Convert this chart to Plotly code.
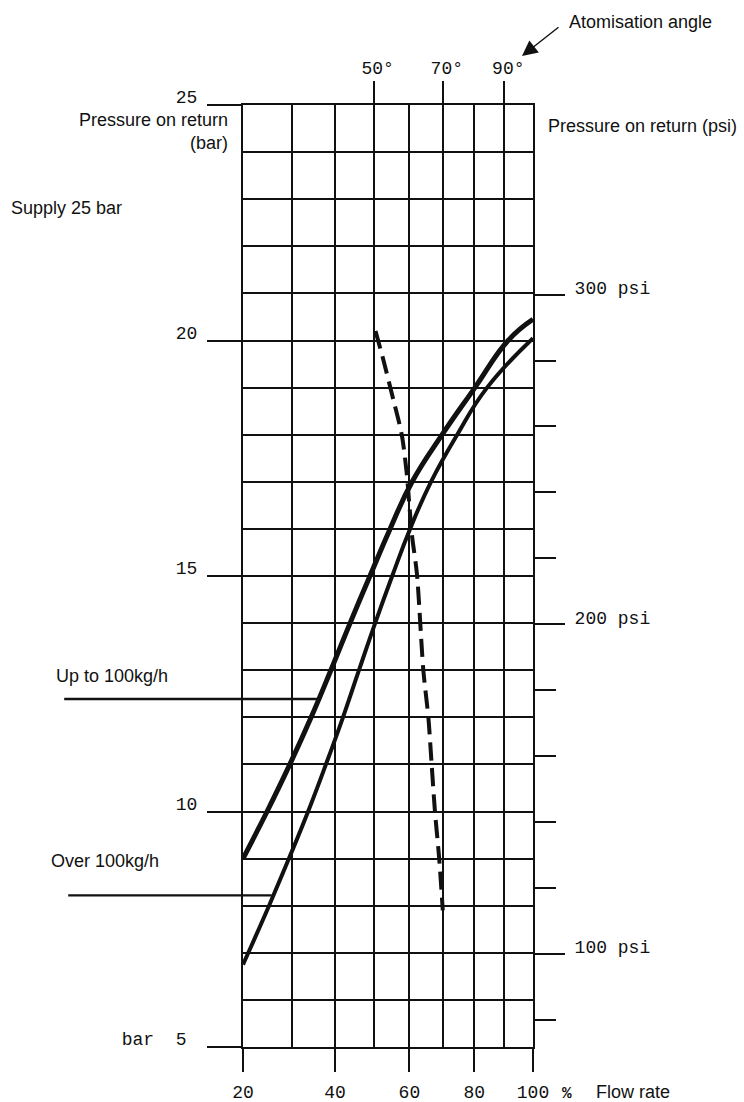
import plotly.graph_objects as go

# ---------------------------------------------------------------
# Data
# ---------------------------------------------------------------
# Flow-rate grid (%) and labelled ticks
flow_grid = [20, 30, 40, 50, 60, 70, 80, 90, 100]
flow_ticks = [20, 40, 60, 80, 100]
flow_tick_text = ["20", "40", "60", "80", "100"]

# Atomisation angle markers on the top edge
angle_flow = [50, 70, 90]
angle_text = ["50°", "70°", "90°"]

# Return pressure (bar) labelled ticks
bar_ticks = [5, 10, 15, 20, 25]
bar_tick_text = ["bar\u00a0\u00a05\u00a0", "10", "15", "20", "25"]

# Return pressure (psi) ticks on the right edge
psi_major = [100, 200, 300]
psi_major_text = ["100 psi", "200 psi", "300 psi"]
psi_minor = [80, 120, 140, 160, 180, 220, 240, 260, 280]

# Nozzle up to 100 kg/h : flow rate (%) vs return pressure (bar)
small_flow = [20, 24.7, 29.5, 34.3, 39.0, 43.8, 49.0, 54.5, 60.8, 69.8, 80.2, 91.3, 100]
small_bar = [9.0, 10, 11, 12, 13, 14, 15, 16, 17, 18, 19, 20, 20.45]

# Nozzle over 100 kg/h
large_flow = [20, 21.0, 25.1, 29.3, 33.6, 37.8, 42.0, 46.1, 50.4, 55.1, 60.2, 66.4, 74.5, 84.2, 100]
large_bar = [6.75, 7, 8, 9, 10, 11, 12, 13, 14, 15, 16, 17, 18, 19, 20.05]

# Atomisation angle line
angle_line_flow = [50.5, 52.6, 55.4, 57.8, 59.2, 60.7, 62.2, 64.1, 65.6, 66.6, 67.6, 68.9, 70.0]
angle_line_bar = [20.2, 19.6, 18.75, 18.0, 17.2, 15.9, 15.05, 13.0, 12.0, 11.0, 10.0, 9.0, 7.9]

# ---------------------------------------------------------------
# Flow axis is drawn on a power scale (exponent 0.6)
# ---------------------------------------------------------------
POWER = 0.6


def fpos(values):
    return [v ** POWER for v in values]


X_RANGE = [20 ** POWER, 100 ** POWER]
Y_RANGE = [5, 25]
PSI_RANGE = [71.8, 357.5]

W, H = 744, 1102
PL, PR, PT, PB = 243, 533, 105, 1047   # plot-area edges in px


def px_x(px):
    return (px - PL) / (PR - PL)


def px_y(py):
    return (PB - py) / (PB - PT)


SANS = "Liberation Sans, Arial, sans-serif"
MONO = "Liberation Mono, Courier New, monospace"
INK = "#111111"

fig = go.Figure()

fig.add_trace(go.Scatter(
    x=fpos(small_flow), y=small_bar, mode="lines",
    line=dict(color=INK, width=5, shape="spline", smoothing=1.3),
    name="Up to 100kg/h", showlegend=False, hoverinfo="skip"))

fig.add_trace(go.Scatter(
    x=fpos(large_flow), y=large_bar, mode="lines",
    line=dict(color=INK, width=4, shape="spline", smoothing=1.3),
    name="Over 100kg/h", showlegend=False, hoverinfo="skip"))

fig.add_trace(go.Scatter(
    x=fpos(angle_line_flow), y=angle_line_bar, mode="lines",
    xaxis="x2",
    line=dict(color=INK, width=4, dash="18px,8px", shape="spline", smoothing=0.8),
    name="Atomisation angle", showlegend=False, hoverinfo="skip"))

# psi scale carrier (no visible marks)
fig.add_trace(go.Scatter(
    x=[X_RANGE[0]], y=[PSI_RANGE[0]], yaxis="y2", mode="markers",
    marker=dict(opacity=0), showlegend=False, hoverinfo="skip"))

grid = dict(showgrid=True, gridcolor=INK, gridwidth=2)
tick_font = dict(family=MONO, size=18, color=INK)

fig.update_layout(
    template="none",
    width=W, height=H,
    margin=dict(l=PL, r=W - PR, t=PT, b=H - PB, pad=0, autoexpand=False),
    paper_bgcolor="white", plot_bgcolor="white",
    showlegend=False,
    xaxis=dict(
        range=X_RANGE, tickmode="array",
        tickvals=fpos(flow_ticks), ticktext=flow_tick_text,
        ticks="outside", ticklen=23, tickwidth=2, tickcolor=INK,
        tickfont=tick_font, ticklabelstandoff=4, automargin=False,
        minor=dict(tickmode="array", tickvals=fpos([30, 50, 70, 90]),
                   ticks="", **grid),
        showline=True, linecolor=INK, linewidth=2, mirror=True,
        zeroline=False, fixedrange=True, **grid),
    xaxis2=dict(
        range=X_RANGE, overlaying="x", side="top", anchor="y",
        tickmode="array", tickvals=fpos(angle_flow), ticktext=angle_text,
        ticks="outside", ticklen=23, tickwidth=2, tickcolor=INK,
        tickfont=tick_font, ticklabelshift=4, automargin=False,
        showgrid=False, showline=False, zeroline=False, fixedrange=True),
    yaxis=dict(
        range=Y_RANGE, tickmode="array",
        tickvals=bar_ticks, ticktext=bar_tick_text,
        ticks="outside", ticklen=34, tickwidth=2, tickcolor=INK,
        tickfont=tick_font, ticklabelshift=-8, ticklabelstandoff=6,
        automargin=False,
        minor=dict(tickmode="linear", tick0=0, dtick=1, ticks="", **grid),
        showline=True, linecolor=INK, linewidth=2, mirror=True,
        zeroline=False, fixedrange=True, **grid),
    yaxis2=dict(
        range=PSI_RANGE, overlaying="y", side="right", anchor="x",
        tickmode="array", tickvals=psi_major, ticktext=psi_major_text,
        ticks="outside", ticklen=31, tickwidth=2, tickcolor=INK,
        tickfont=tick_font, ticklabelshift=-7, ticklabelstandoff=6,
        automargin=False,
        minor=dict(tickmode="array", tickvals=psi_minor, ticks="outside",
                   ticklen=22, tickwidth=2, tickcolor=INK, showgrid=False),
        showgrid=False, showline=False, zeroline=False, fixedrange=True),
)

text_font = dict(family=SANS, size=18, color=INK)
notes = [
    dict(text="Atomisation angle", x=px_x(567), y=px_y(22), xanchor="left"),
    dict(text="Pressure on return<br>(bar)", x=px_x(230), y=px_y(108),
         xanchor="right", yanchor="top", align="right"),
    dict(text="Supply 25 bar", x=px_x(9), y=px_y(208), xanchor="left"),
    dict(text="Pressure on return (psi)", x=px_x(546), y=px_y(126), xanchor="left"),
    dict(text="Up to 100kg/h", x=px_x(54), y=px_y(676), xanchor="left"),
    dict(text="Over 100kg/h", x=px_x(49), y=px_y(861), xanchor="left"),
    dict(text="Flow rate", x=px_x(594), y=px_y(1092), xanchor="left"),
]
for n in notes:
    fig.add_annotation(xref="paper", yref="paper", yanchor=n.pop("yanchor", "middle"),
                       showarrow=False, font=text_font, **n)

fig.add_annotation(xref="paper", yref="paper", x=px_x(567), y=px_y(1094),
                   text="<b>%</b>", showarrow=False, xanchor="center", yanchor="middle",
                   font=dict(family=MONO, size=16, color=INK))

# Arrow pointing at the angle scale
fig.add_annotation(xref="paper", yref="paper", x=px_x(522), y=px_y(56),
                   text="", showarrow=True, ax=38, ay=-30,
                   arrowhead=2, arrowsize=2.2, arrowwidth=1.4, arrowcolor=INK,
                   standoff=0, startstandoff=0)

# Leader lines from the nozzle labels to their curves
for fx_, by_, tail in [(36.0, 12.39, 62.7), (25.65, 8.22, 66.7)]:
    x_end = fx_ ** POWER
    head_px = PL + (x_end - X_RANGE[0]) / (X_RANGE[1] - X_RANGE[0]) * (PR - PL)
    fig.add_annotation(xref="x", yref="y", x=x_end, y=by_, text="",
                       showarrow=True, arrowhead=0, arrowwidth=2.4, arrowcolor=INK,
                       ax=tail - head_px, ay=0, standoff=0, startstandoff=0)

fig.write_html("out.html")
